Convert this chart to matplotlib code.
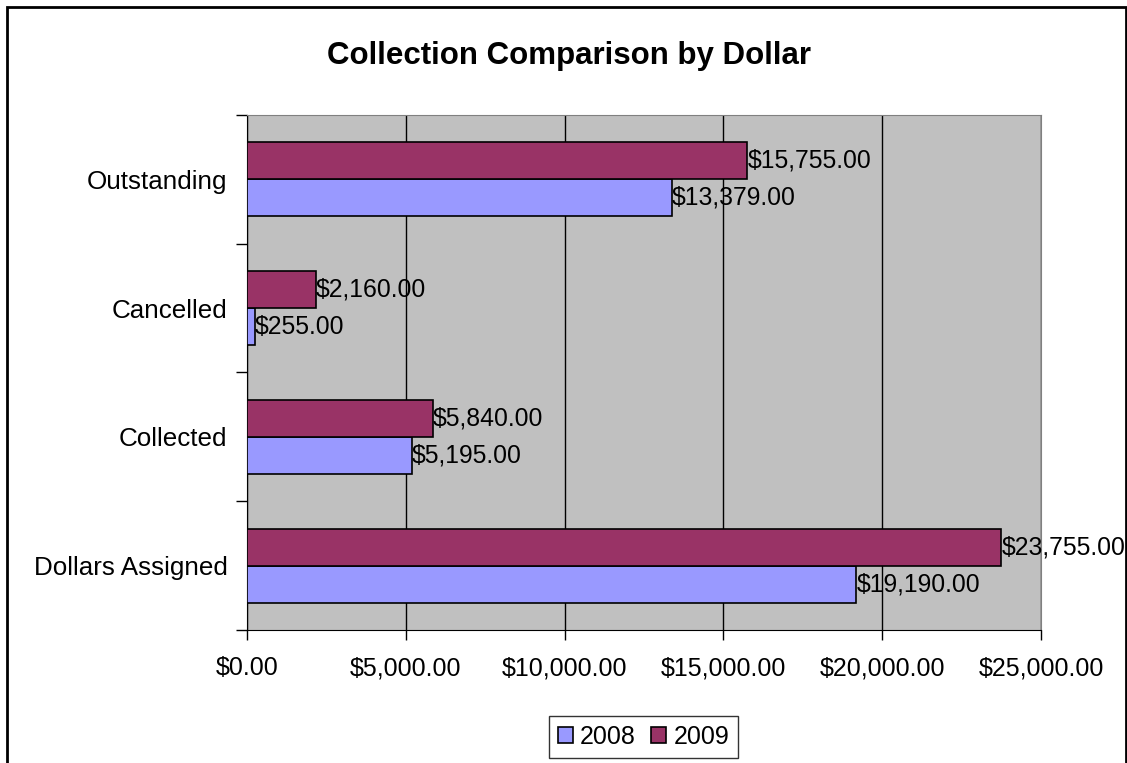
import matplotlib
matplotlib.use("Agg")
import matplotlib.pyplot as plt
from matplotlib.patches import Rectangle
import numpy as np

categories = ["Dollars Assigned", "Collected", "Cancelled", "Outstanding"]
values_2008 = [19190, 5195, 255, 13379]
values_2009 = [23755, 5840, 2160, 15755]
series_names = ["2008", "2009"]
x_ticks = [0, 5000, 10000, 15000, 20000, 25000]

plt.rcParams["font.family"] = ["Liberation Sans", "DejaVu Sans"]

fig = plt.figure(figsize=(11.27, 7.63), dpi=100)
ax = fig.add_axes([0.2192, 0.1743, 0.7045, 0.675])

# outer frame (open at the bottom, like the clipped original)
fig.patches.append(Rectangle((7 / 1127, -0.05), 1119 / 1127, 1.05 - 7 / 763,
                             transform=fig.transFigure, fill=False,
                             edgecolor="black", linewidth=2))

y = np.arange(len(categories))
h = 0.2875
fmt = lambda v: "${:,.2f}".format(v)

b08 = ax.barh(y - h / 2, values_2008, height=h, color="#9999FF",
              edgecolor="black", linewidth=1.2, label=series_names[0], zorder=3)
b09 = ax.barh(y + h / 2, values_2009, height=h, color="#993366",
              edgecolor="black", linewidth=1.2, label=series_names[1], zorder=3)

for bars, vals in ((b08, values_2008), (b09, values_2009)):
    for bar, v in zip(bars, vals):
        ax.annotate(fmt(v), (v, bar.get_y() + bar.get_height() / 2),
                    xytext=(0, 0), textcoords="offset points",
                    va="center", ha="left", fontsize=17.8, zorder=5,
                    annotation_clip=False)

ax.set_facecolor("#C0C0C0")
ax.set_xlim(0, 25000)
ax.set_ylim(-0.5, len(categories) - 0.5)
ax.set_xticks(x_ticks)
ax.set_xticklabels([fmt(t) for t in x_ticks], fontsize=18)
ax.set_yticks(y)
ax.set_yticklabels(categories, fontsize=18.7)
ax.tick_params(axis="y", length=0, pad=14)
ax.set_yticks(np.arange(len(categories) + 1) - 0.5, minor=True)
ax.tick_params(axis="y", which="minor", length=8, width=1, direction="out")
ax.tick_params(axis="x", length=7, width=1, pad=12)
ax.grid(axis="x", color="black", linewidth=1, zorder=1)
ax.set_axisbelow(True)

for s in ["top", "right"]:
    ax.spines[s].set_color("#808080")
ax.spines["left"].set_color("black")
ax.spines["bottom"].set_color("black")

fig.text(0.505, 0.927, "Collection Comparison by Dollar", ha="center",
         va="center", fontsize=22.5, fontweight="bold")

leg = fig.legend(handles=[b08, b09], loc="center", bbox_to_anchor=(0.571, 0.034),
                 ncol=2, fontsize=18, frameon=True, fancybox=False,
                 edgecolor="black", handlelength=0.6, handleheight=0.6,
                 handletextpad=0.3, columnspacing=0.6, borderpad=0.35,
                 borderaxespad=0)
leg.get_frame().set_linewidth(1)

fig.savefig("out.png", dpi=100)
